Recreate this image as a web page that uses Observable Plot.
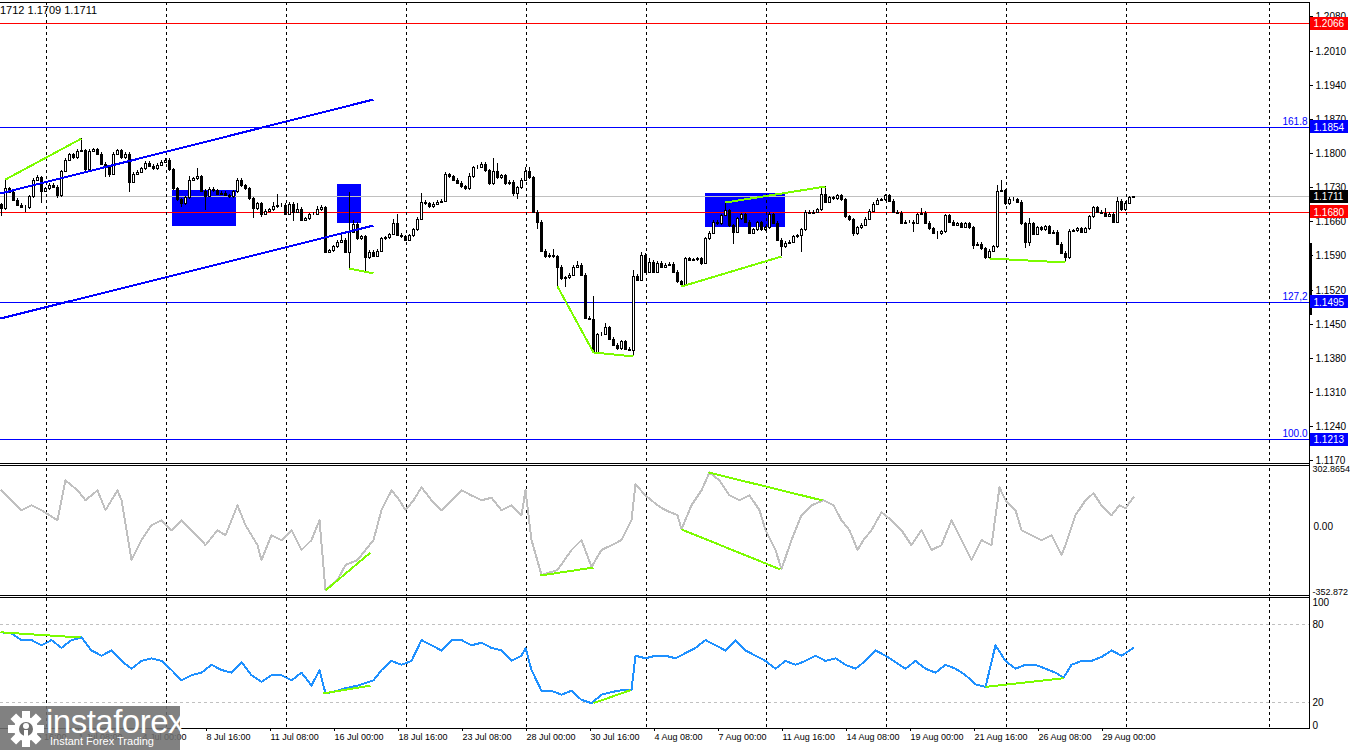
<!DOCTYPE html>
<html><head><meta charset="utf-8">
<script src="https://cdn.jsdelivr.net/npm/d3@7"></script>
<script src="https://cdn.jsdelivr.net/npm/@observablehq/plot@0.6"></script>
<style>
body{margin:0;background:#fff;}
#wrap{position:relative;width:1350px;height:750px;overflow:hidden;background:#fff;font-family:"Liberation Sans",Arial,sans-serif;}
.pn{position:absolute;left:0;}
.pn svg{shape-rendering:crispEdges;}
.hl{position:absolute;left:0;width:1309px;height:1px;background:#000;}
.vl{position:absolute;width:1px;background:#000;}
</style></head><body><div id="wrap"></div>
<script>
// ---------- DATA ----------
const header = "1712 1.1709 1.1711";
const firstOpen = 1.1695;
const closes = [
1.1687,1.1728,1.1721,1.1704,1.1694,1.1690,1.1689,1.1711,1.1745,1.1750,
1.1723,1.1728,1.1735,1.1731,1.1714,1.1764,1.1786,1.1797,1.1791,1.1805,
1.1806,1.1767,1.1805,1.1808,1.1799,1.1778,1.1772,1.1757,1.1799,1.1806,
1.1791,1.1799,1.1741,1.1758,1.1762,1.1769,1.1780,1.1774,1.1769,1.1776,
1.1782,1.1786,1.1767,1.1728,1.1705,1.1697,1.1709,1.1745,1.1748,1.1752,
1.1723,1.1712,1.1727,1.1724,1.1716,1.1719,1.1714,1.1711,1.1722,1.1745,
1.1734,1.1728,1.1707,1.1687,1.1697,1.1676,1.1682,1.1685,1.1691,1.1693,
1.1694,1.1676,1.1696,1.1680,1.1686,1.1663,1.1666,1.1675,1.1676,1.1685,
1.1689,1.1598,1.1601,1.1609,1.1618,1.1622,1.1598,1.1639,1.1655,1.1625,
1.1629,1.1586,1.1598,1.1589,1.1600,1.1625,1.1627,1.1634,1.1657,1.1632,
1.1629,1.1622,1.1631,1.1644,1.1665,1.1700,1.1697,1.1691,1.1696,1.1700,
1.1702,1.1757,1.1752,1.1745,1.1739,1.1732,1.1728,1.1752,1.1771,1.1772,
1.1778,1.1765,1.1738,1.1764,1.1750,1.1755,1.1738,1.1741,1.1719,1.1730,
1.1745,1.1764,1.1750,1.1680,1.1659,1.1600,1.1588,1.1591,1.1588,1.1567,
1.1543,1.1545,1.1550,1.1567,1.1571,1.1550,1.1462,1.1460,1.1393,1.1428,
1.1429,1.1443,1.1419,1.1407,1.1400,1.1414,1.1399,1.1397,1.1548,1.1540,
1.1591,1.1557,1.1577,1.1557,1.1575,1.1567,1.1571,1.1573,1.1557,1.1537,
1.1532,1.1584,1.1581,1.1582,1.1584,1.1575,1.1625,1.1637,1.1659,1.1656,
1.1673,1.1683,1.1652,1.1639,1.1666,1.1675,1.1659,1.1637,1.1644,1.1658,
1.1644,1.1648,1.1675,1.1657,1.1622,1.1609,1.1616,1.1618,1.1629,1.1631,
1.1644,1.1680,1.1678,1.1680,1.1685,1.1716,1.1700,1.1709,1.1707,1.1713,
1.1705,1.1670,1.1664,1.1635,1.1648,1.1653,1.1665,1.1682,1.1696,1.1704,
1.1705,1.1713,1.1702,1.1680,1.1678,1.1657,1.1659,1.1659,1.1657,1.1675,
1.1678,1.1657,1.1646,1.1637,1.1635,1.1640,1.1673,1.1659,1.1653,1.1656,
1.1649,1.1656,1.1648,1.1612,1.1614,1.1605,1.1586,1.1600,1.1609,1.1723,
1.1724,1.1697,1.1706,1.1705,1.1700,1.1656,1.1618,1.1656,1.1634,1.1648,
1.1644,1.1650,1.1637,1.1639,1.1614,1.1596,1.1586,1.1641,1.1642,1.1646,
1.1639,1.1646,1.1670,1.1689,1.1680,1.1678,1.1671,1.1676,1.1659,1.1702,
1.1685,1.1698,1.1709,1.1711];
const wickHigh = {1:1.1746,9:1.1755,15:1.1766,20:1.1830,22:1.1809,36:1.1784,47:1.1752,49:1.1769,59:1.1749,68:1.1700,69:1.1716,74:1.1698,79:1.1692,80:1.1693,85:1.1632,87:1.1721,88:1.1662,98:1.1664,99:1.1676,105:1.1719,111:1.1762,117:1.1760,123:1.1789,124:1.1779,131:1.1772,132:1.1772,138:1.1603,144:1.1578,148:1.1506,151:1.1451,158:1.1561,160:1.1598,162:1.1585,181:1.1700,192:1.1680,201:1.1684,205:1.1728,206:1.1732,222:1.1717,230:1.1687,249:1.1735,250:1.1745,253:1.1710,257:1.1666,276:1.1688,279:1.1710,282:1.1712,283:1.1712};
const wickLow = {0:1.1670,6:1.1680,10:1.1697,14:1.1708,15:1.1710,26:1.1751,27:1.1751,32:1.1721,45:1.1690,51:1.1683,63:1.1667,65:1.1669,73:1.1660,81:1.1595,87:1.1564,91:1.1557,128:1.1712,129:1.1705,134:1.1644,139:1.1528,141:1.1526,148:1.1392,158:1.1383,160:1.1537,170:1.1528,175:1.1570,183:1.1614,195:1.1589,200:1.1598,213:1.1630,228:1.1639,234:1.1623,243:1.1603,247:1.1584,256:1.1605,257:1.1610,266:1.1577,283:1.1709};
const defaultWick = 0.0003;

const priceTicks = [1.2080,1.2010,1.1940,1.1870,1.1800,1.1730,1.1660,1.1590,1.1520,1.1450,1.1380,1.1310,1.1240,1.1170];
const redLevels = [1.2066,1.1680];
const blueLevels = [1.1854,1.1495,1.1213];
const currentPrice = 1.1711;
const fibValues = [1.1854,1.1495,1.1213];
const fibTexts = ["161.8","127,2","100.0"];

const zoneI1 = [42.75,83.9,176], zoneI2 = [58.75,90,196];
const zoneP1 = [1.1651,1.1657,1.1649], zoneP2 = [1.1724,1.1737,1.1719];
const channel = [[-0.25,1.1718,93,1.1910],[-0.25,1.1462,93,1.1652]];
const priceDiv = [[1,1.1746,20,1.1830],[87,1.1564,93,1.1555],[139,1.1528,148,1.1392],[148,1.1392,158,1.1383],[170,1.1528,195,1.1589],[181,1.1700,206,1.1732],[247,1.1584,266,1.1577]];
const rangeBar = [1.1616,1.1468];

const cciI = [0,2.5,5,7.5,10,14,16,19,21,24,26,29,30,32.5,35,37.5,40,42.5,45,47.5,50,51,54,56,59,61,64,65,67.5,70,72.5,75,77.5,79.5,81,84,86,89,91,93,95,97.5,99.5,101,103,105,107.5,110,112.5,115,117.5,120,122.5,125,127.5,130,131,132.5,135,139,142.5,145,147.5,150,152.5,155,157.5,158.5,161,164,166,169,170,172.5,175,177,179.5,182,184.5,187,189.5,191,193.5,195,197.5,200,202.5,205.5,208,210,212,214,215.5,217.5,220,222.5,225,227.5,230,232.5,235,237.5,240,242.5,245,247.5,249.5,251,253.5,255,257.5,260,262.5,265,266,268.5,271,273,275,277.5,279.5,281,283];
const cciV = [188,137,86,111,86,34,239,188,137,188,86,188,137,-171,-68,9,34,-17,34,-17,-68,-94,-17,-43,111,9,-94,-171,-43,-68,-17,-119,-68,34,-324,-273,-196,-171,-119,-68,86,188,137,86,137,203,137,86,137,188,162,137,150,86,111,60,188,-68,-247,-222,-119,-68,-206,-119,-94,-68,34,218,162,111,86,60,-12,111,188,280,239,162,137,162,86,-17,-119,-217,-68,60,111,137,111,34,-17,-119,-68,-17,75,34,-17,-94,-17,-119,-94,34,-68,-171,-68,-94,203,137,86,-17,-43,-68,-43,-145,-94,60,137,173,111,60,111,96,152];
const cciMax = 302.8654, cciMin = -352.872;
const cciDiv = [[81,-327,92.25,-132],[134.75,-250,148,-209],[170,-13,194.75,-219],[176.75,280,205.25,136]];

const rsiI = [0,2.5,5,7.5,10,12.5,15,17.5,20,22.5,25,27.5,30,32.5,35,37.5,40,42.5,45,47.5,50,52.5,55,57.5,60,62.5,65,67.5,70,72.5,75,77.5,79.5,81,84,86,89,91,93,95,97.5,100,102.5,105,107.5,110,112.5,115,117.5,120,122.5,125,127.5,130,131,132.5,135,137.5,140,142.5,145,147.5,150,152.5,155,157.5,158.5,161,163.5,166,168.5,171,173.5,176,178.5,181,183.5,186,188.5,191,193.5,196,198.5,201,203.5,206,208.5,211,213.5,216,218.5,221,223.5,226,228.5,231,233.5,236,238.5,241,243.5,246,248.5,251,253.5,256,258.5,261,263.5,265.5,267.5,270,272.5,275,277.5,280,283];
const rsiV = [74,73,68,68,64,68,62,68,70,60,56,60,52,46,52,54,52,45,37,41,43,49,45,43,51,41,36,41,41,37,43,33,45,27,29,31,33,35,37,45,52,49,52,68,64,60,68,68,64,66,62,60,52,56,62,45,29,29,26,29,22,19.5,26,28,29.5,29.5,56,54,56,56,54,58,62,68,64,60,68,60,56,52,46,52,49,52,56,52,54,49,46,52,60,56,51,46,52,46,43,49,46,41,34,32,64,52,46,49,49,46,43,39,49,52,52,55,60,56,62];
const rsiLevels = [80,20];
const rsiMid = [80,20];
const rsiDiv = [[-0.25,74,19.75,70],[80.5,27,92.25,33],[148,19.5,157.25,29.5],[246,32,265.5,38.7]];

const weekStarts = [11.25,41.25,71.25,101.25,131.25,161.25,191.25,221.25,251.25,281.25,317];
const xTickIdx = [3,19,35,51,67,83,99,115,131,147,163,179,195,211,227,243,259,275];
const xTickText = ["26 Jun 16:00","1 Jul 08:00","4 Jul 00:00","8 Jul 16:00","11 Jul 08:00","16 Jul 00:00","18 Jul 16:00","23 Jul 08:00","28 Jul 00:00","30 Jul 16:00","4 Aug 08:00","7 Aug 00:00","11 Aug 16:00","14 Aug 08:00","19 Aug 00:00","21 Aug 16:00","26 Aug 08:00","29 Aug 00:00"];

// ---------- LAYOUT ----------
const W = 1350, MR = 41;
const xDom = [-0.25, 327];
const ix = px => (px - 1) / 4;   // pixel -> candle-index position (layout helper)
const font = {fontFamily:"Liberation Sans, Arial, sans-serif", fontSize:"10px", background:"transparent", overflow:"visible", color:"#000"};
const wrap = document.getElementById("wrap");
function place(el, top){ const d=document.createElement("div"); d.className="pn"; d.style.top=top+"px"; d.appendChild(el); wrap.appendChild(d); }

const candles = closes.map((c,i)=>{
  const o = i===0 ? firstOpen : closes[i-1];
  const top = Math.max(o,c), bot = Math.min(o,c);
  return {i,o,c,h: wickHigh[i] ?? top+defaultWick, l: wickLow[i] ?? bot-defaultWick, up: c>=o};
});
const fibs = fibValues.map((v,k)=>({v, t: fibTexts[k]}));
const zones = zoneI1.map((a,k)=>({i1:a,i2:zoneI2[k],p1:zoneP1[k],p2:zoneP2[k]}));
const seg = a => a.map(s=>({x1:s[0],y1:s[1],x2:s[2],y2:s[3]}));

// price panel
const pDom = [1.11644, 1.21097];
const pxPerP = 461/(pDom[1]-pDom[0]);
const hh = 6.5/pxPerP;
const boxMarks = (vals, color) => [
  Plot.rect(vals, {x1:()=>ix(1309), x2:()=>ix(1348), y1:d=>d-hh, y2:d=>d+hh, fill:color}),
  Plot.text(vals, {x:()=>ix(1313), y:d=>d, text:d=>d.toFixed(4), fill:"#fff", textAnchor:"start"})
];
const price = Plot.plot({
  width: W, height: 464, marginLeft: 0, marginRight: MR, marginTop: 2, marginBottom: 1,
  style: font,
  x: {domain: xDom, axis: null},
  y: {domain: pDom, axis: null, round: true},
  marks: [
    Plot.rect(zones, {x1:"i1", x2:"i2", y1:"p1", y2:"p2", fill:"#0000ff"}),
    Plot.ruleY(redLevels, {stroke:"#ff0000", strokeWidth:1, shapeRendering:"crispEdges"}),
    Plot.ruleY(blueLevels, {stroke:"#0000ff", strokeWidth:1, shapeRendering:"crispEdges"}),
    Plot.ruleY([currentPrice], {stroke:"#c0c0c0", strokeWidth:1}),
    Plot.ruleX(weekStarts, {stroke:"#000", strokeDasharray:"3,3", strokeWidth:1}),
    Plot.ruleX(candles, {x:"i", y1:"l", y2:"h", stroke:"#000", strokeWidth:1}),
    Plot.rect(candles, {x1:d=>d.i-0.25, x2:d=>d.i+0.25, y1:"o", y2:"c", fill:d=>d.up?"white":"black", stroke:"#000", strokeWidth:1}),
    Plot.link(seg(channel), {x1:"x1",y1:"y1",x2:"x2",y2:"y2", stroke:"#0000ff", strokeWidth:2}),
    Plot.link(seg(priceDiv), {x1:"x1",y1:"y1",x2:"x2",y2:"y2", stroke:"#7cfc00", strokeWidth:2}),
    Plot.axisY(priceTicks, {anchor:"right", tickSize:3, tickPadding:3, tickFormat:d=>d.toFixed(4), stroke:"#000", fill:"#000"}),
    Plot.ruleX([rangeBar], {x:()=>ix(1309.5), y1:d=>d[0], y2:d=>d[1], stroke:"#000", strokeWidth:3}),
    ...boxMarks(redLevels, "#ff0000"),
    ...boxMarks(blueLevels, "#0000ff"),
    ...boxMarks([currentPrice], "#000000"),
    Plot.text(fibs, {x:()=>ix(1307), y:"v", text:"t", fill:"#0000ff", textAnchor:"end", dy:-6})
  ]
});
place(price, 0);

// CCI panel
const cciData = cciI.map((i,k)=>({i, v:cciV[k]}));
const cci = Plot.plot({
  width: W, height: 132, marginLeft: 0, marginRight: MR, marginTop: 3.5, marginBottom: 1,
  style: font,
  x: {domain: xDom, axis: null},
  y: {domain: [cciMin, cciMax], axis: null},
  marks: [
    Plot.ruleX(weekStarts, {stroke:"#000", strokeDasharray:"3,3", strokeWidth:1}),
    Plot.line(cciData, {x:"i", y:"v", stroke:"#c0c0c0", strokeWidth:2}),
    Plot.link(seg(cciDiv), {x1:"x1",y1:"y1",x2:"x2",y2:"y2", stroke:"#7cfc00", strokeWidth:2}),
    Plot.text([cciMax], {x:()=>ix(1312), y:d=>d, text:d=>d.toFixed(4), textAnchor:"start", lineAnchor:"top", dy:-2, fontSize:9}),
    Plot.text([0], {x:()=>ix(1313), y:d=>d, text:()=>"0.00", textAnchor:"start"}),
    Plot.text([cciMin], {x:()=>ix(1312), y:d=>d, text:d=>d.toFixed(3), textAnchor:"start", lineAnchor:"bottom", dy:-1, fontSize:9})
  ]
});
place(cci, 464);

// RSI panel
const rsiData = rsiI.map((i,k)=>({i, v:rsiV[k]}));
const xLab = new Map(xTickIdx.map((d,k)=>[d, xTickText[k]]));
const rsi = Plot.plot({
  width: W, height: 154, marginLeft: 0, marginRight: MR, marginTop: 2, marginBottom: 22,
  style: font,
  x: {domain: xDom},
  y: {domain: [0,100], axis: null},
  marks: [
    Plot.ruleY(rsiLevels, {stroke:"#c0c0c0", strokeDasharray:"3,3"}),
    Plot.ruleX(weekStarts, {stroke:"#000", strokeDasharray:"3,3", strokeWidth:1}),
    Plot.line(rsiData, {x:"i", y:"v", stroke:"#1e90ff", strokeWidth:2}),
    Plot.link(seg(rsiDiv), {x1:"x1",y1:"y1",x2:"x2",y2:"y2", stroke:"#7cfc00", strokeWidth:2}),
    Plot.axisX(xTickIdx, {anchor:"bottom", tickSize:3, tickPadding:2, tickFormat:d=>xLab.get(d), textAnchor:"start", dx:1, fontSize:9, stroke:"#000", fill:"#000"}),
    Plot.text([100], {x:()=>ix(1312), y:d=>d, text:d=>String(d), textAnchor:"start", lineAnchor:"top"}),
    Plot.text(rsiMid, {x:()=>ix(1312), y:d=>d, text:d=>String(d), textAnchor:"start"}),
    Plot.text([0], {x:()=>ix(1312), y:d=>d, text:d=>String(d), textAnchor:"start", lineAnchor:"bottom"})
  ]
});
place(rsi, 596);

// frame lines
[2,463,465,595,597,728].forEach(y=>{const d=document.createElement("div");d.className="hl";d.style.top=y+"px";wrap.appendChild(d);});
{const d=document.createElement("div");d.className="vl";d.style.left="1309px";d.style.top="2px";d.style.height="727px";wrap.appendChild(d);}

// header text
{const d=document.createElement("div");d.textContent=header;d.style.cssText="position:absolute;left:0;top:4px;font:11px 'Liberation Sans',Arial,sans-serif;color:#000;";wrap.appendChild(d);}

// logo
{const d=document.createElement("div");
 d.style.cssText="position:absolute;left:0;top:706px;width:180px;height:44px;background:rgba(112,112,112,0.88);color:#fff;";
 d.innerHTML='<svg width="40" height="40" style="position:absolute;left:6px;top:3px" viewBox="-20 -20 40 40">'+
 d3.range(8).map(k=>`<rect x="-4" y="-18" width="8" height="9" fill="#fff" transform="rotate(${k*45})"/>`).join("")+
 '<circle r="12" fill="#fff"/><circle r="7" fill="rgb(112,112,112)"/><circle cy="-3" r="3" fill="#fff"/><rect x="-2" y="1" width="4" height="12" fill="#fff"/></svg>'+
 '<div style="position:absolute;left:46px;top:-3px;font:33px \'Liberation Sans\',Arial,sans-serif;letter-spacing:-0.5px;">instaforex</div>'+
 '<div style="position:absolute;left:50px;top:29px;font:11px \'Liberation Sans\',Arial,sans-serif;">Instant Forex Trading</div>';
 wrap.appendChild(d);}
</script></body></html>
